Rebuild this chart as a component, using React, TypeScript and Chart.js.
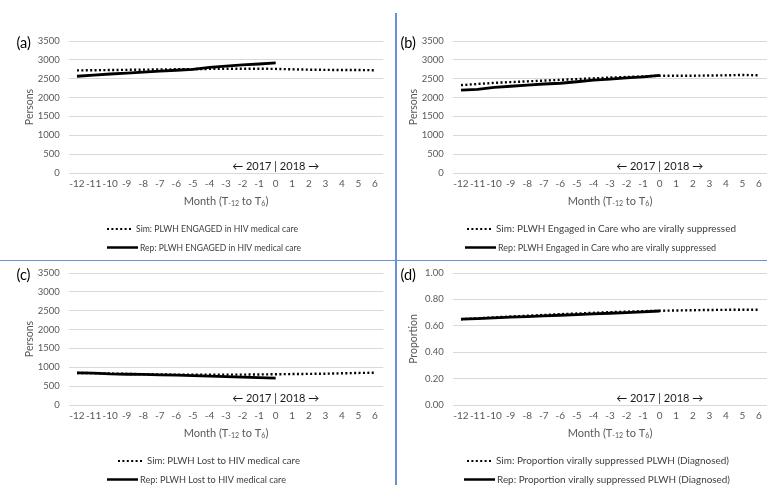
import React, { useEffect, useRef } from "react";
import { Chart, registerables } from "chart.js";

Chart.register(...registerables);

// ---------- data ----------
const months = ["-12", "-11", "-10", "-9", "-8", "-7", "-6", "-5", "-4", "-3", "-2", "-1", "0", "1", "2", "3", "4", "5", "6"];

const simEngaged = [2720, 2725, 2730, 2735, 2740, 2745, 2750, 2755, 2760, 2765, 2765, 2765, 2760, 2750, 2740, 2735, 2730, 2730, 2725];
const repEngaged = [2565, 2595, 2625, 2650, 2675, 2700, 2725, 2750, 2800, 2835, 2865, 2890, 2920];

const simSuppressed = [2330, 2360, 2390, 2410, 2430, 2450, 2470, 2490, 2510, 2530, 2545, 2560, 2580, 2580, 2580, 2585, 2590, 2600, 2590];
const repSuppressed = [2200, 2220, 2270, 2300, 2330, 2360, 2380, 2420, 2460, 2490, 2520, 2550, 2590];

const simLost = [850, 845, 835, 825, 815, 810, 805, 805, 805, 805, 805, 810, 815, 820, 825, 830, 840, 850, 855];
const repLost = [850, 845, 825, 815, 810, 800, 790, 780, 765, 755, 740, 725, 710];

const simProportion = [0.65, 0.657, 0.664, 0.67, 0.676, 0.682, 0.688, 0.693, 0.698, 0.703, 0.707, 0.711, 0.714, 0.716, 0.718, 0.72, 0.721, 0.722, 0.722];
const repProportion = [0.65, 0.655, 0.66, 0.665, 0.67, 0.675, 0.68, 0.685, 0.69, 0.695, 0.7, 0.705, 0.712];

const personsMax = 3500;
const personsStep = 500;
const proportionMax = 1;
const proportionStep = 0.2;

const panelLabels = ["(a)", "(b)", "(c)", "(d)"];
const yTitles = ["Persons", "Persons", "Persons", "Proportion"];
const simLegends = [
  "Sim: PLWH ENGAGED in HIV medical care",
  "Sim: PLWH Engaged in Care who are virally suppressed",
  "Sim: PLWH Lost to HIV medical care",
  "Sim: Proportion virally suppressed PLWH (Diagnosed)",
];
const repLegends = [
  "Rep: PLWH ENGAGED in HIV medical care",
  "Rep: PLWH Engaged in Care who are virally suppressed",
  "Rep: PLWH Lost to HIV medical care",
  "Rep: Proportion virally suppressed PLWH (Diagnosed)",
];
const yearAnnotation = "\u2190 2017 | 2018 \u2192";
const xTitleParts = ["Month (T", "-12", " to T", "6", ")"];
const annotationMonth = "0";

// ---------- layout ----------
const CW = 390;
const CH = 260;
const AREA_LEFT = 68.7;
const AREA_RIGHT = 383.3;
const AREA_TOP = 41;
const AREA_BOTTOM = 173;
const XAXIS_H = 20;
const FONT = "Lato, 'Open Sans', sans-serif";
const GRAY = "#595959";

type PanelDef = {
  idx: number;
  left: number;
  top: number;
  sim: number[];
  rep: number[];
  max: number;
  step: number;
  decimals: number;
  simX: number;
  repX: number;
  simW: number;
  repW: number;
};

const panels: PanelDef[] = [
  { idx: 0, left: 0, top: 0, sim: simEngaged, rep: repEngaged, max: personsMax, step: personsStep, decimals: 0, simX: 107, repX: 107, simW: 162, repW: 161 },
  { idx: 1, left: 384, top: 0, sim: simSuppressed, rep: repSuppressed, max: personsMax, step: personsStep, decimals: 0, simX: 83, repX: 81, simW: 240, repW: 218 },
  { idx: 2, left: 0, top: 232, sim: simLost, rep: repLost, max: personsMax, step: personsStep, decimals: 0, simX: 118, repX: 107, simW: 153, repW: 146 },
  { idx: 3, left: 384, top: 232, sim: simProportion, rep: repProportion, max: proportionMax, step: proportionStep, decimals: 2, simX: 83, repX: 80, simW: 233, repW: 233 },
];

function fitText(ctx: CanvasRenderingContext2D, text: string, x: number, y: number, target: number) {
  const w = ctx.measureText(text).width;
  const sx = w > 0 ? target / w : 1;
  ctx.save();
  ctx.translate(x, y);
  ctx.scale(sx, 1);
  ctx.fillText(text, 0, 0);
  ctx.restore();
}

function Panel({ p }: { p: PanelDef }) {
  const ref = useRef<HTMLCanvasElement | null>(null);
  useEffect(() => {
    const canvas = ref.current;
    if (!canvas) return;
    const overlay = {
      id: "overlay" + p.idx,
      afterDraw(chart: any) {
        const ctx = chart.ctx as CanvasRenderingContext2D;
        const xs = chart.scales.x;
        const ys = chart.scales.y;
        const area = chart.chartArea;
        ctx.save();
        // panel label
        ctx.fillStyle = "#000";
        ctx.font = `14.5px ${FONT}`;
        ctx.textAlign = "left";
        ctx.textBaseline = "middle";
        ctx.fillText(panelLabels[p.idx], 16.5, 43);
        // y title
        ctx.save();
        ctx.translate(30, (area.top + area.bottom) / 2);
        ctx.rotate(-Math.PI / 2);
        ctx.fillStyle = GRAY;
        ctx.font = `10.5px ${FONT}`;
        ctx.textAlign = "center";
        ctx.textBaseline = "middle";
        ctx.fillText(yTitles[p.idx], 0, 0);
        ctx.restore();
        // x title with subscripts
        const big = `11px ${FONT}`;
        const small = `7px ${FONT}`;
        const fonts = [big, small, big, small, big];
        let total = 0;
        const widths = xTitleParts.map((t, i) => {
          ctx.font = fonts[i];
          const w = ctx.measureText(t).width;
          total += w;
          return w;
        });
        let x = (area.left + area.right) / 2 - total / 2;
        const ty = 201;
        ctx.fillStyle = GRAY;
        ctx.textAlign = "left";
        ctx.textBaseline = "middle";
        xTitleParts.forEach((t, i) => {
          ctx.font = fonts[i];
          ctx.fillText(t, x, i % 2 === 1 ? ty + 3 : ty);
          x += widths[i];
        });
        // year annotation
        ctx.fillStyle = "#1a1a1a";
        ctx.font = `11px ${FONT}`;
        ctx.textAlign = "center";
        ctx.textBaseline = "middle";
        const ax = xs.getPixelForValue(months.indexOf(annotationMonth));
        ctx.fillText(yearAnnotation, ax, ys.getPixelForValue(0) - 6.5);
        // legend
        const r1 = 229;
        const r2 = 247.5;
        ctx.strokeStyle = "#000";
        ctx.lineWidth = 2.2;
        ctx.setLineDash([2, 2.4]);
        ctx.beginPath();
        ctx.moveTo(p.simX, r1);
        ctx.lineTo(p.simX + 26, r1);
        ctx.stroke();
        ctx.setLineDash([]);
        ctx.lineWidth = 2.5;
        ctx.beginPath();
        ctx.moveTo(p.repX, r2);
        ctx.lineTo(p.repX + 31, r2);
        ctx.stroke();
        ctx.fillStyle = "#404040";
        ctx.font = `9.8px ${FONT}`;
        ctx.textAlign = "left";
        fitText(ctx, simLegends[p.idx], p.simX + 29, r1, p.simW);
        fitText(ctx, repLegends[p.idx], p.repX + 33, r2, p.repW);
        ctx.restore();
      },
    };
    const chart = new Chart(canvas, {
      type: "line",
      data: {
        labels: months,
        datasets: [
          {
            label: simLegends[p.idx],
            data: p.sim,
            borderColor: "#000",
            borderWidth: 2.4,
            borderDash: [2, 2.4],
            pointRadius: 0,
            tension: 0,
            fill: false,
            order: 0,
          },
          {
            label: repLegends[p.idx],
            data: p.rep,
            borderColor: "#000",
            borderWidth: 2.8,
            pointRadius: 0,
            tension: 0,
            fill: false,
            order: 1,
          },
        ],
      },
      options: {
        animation: false,
        responsive: false,
        maintainAspectRatio: false,
        devicePixelRatio: 1,
        layout: {
          padding: { left: 0, top: AREA_TOP, right: CW - AREA_RIGHT, bottom: CH - AREA_BOTTOM - XAXIS_H },
        },
        plugins: { legend: { display: false }, tooltip: { enabled: false } },
        scales: {
          x: {
            type: "category",
            offset: true,
            grid: { display: false, drawTicks: false },
            border: { display: false },
            ticks: { color: GRAY, font: { family: FONT, size: 10 }, padding: 5, maxRotation: 0, minRotation: 0, autoSkip: false },
            afterFit: (s: any) => {
              s.height = XAXIS_H;
            },
          },
          y: {
            min: 0,
            max: p.max,
            ticks: {
              stepSize: p.step,
              color: GRAY,
              font: { family: FONT, size: 9.5 },
              padding: 9,
              callback: (v: any) => (p.decimals ? Number(v).toFixed(p.decimals) : String(v)),
            },
            grid: { color: "#d9d9d9", drawTicks: false, lineWidth: 1 },
            border: { display: false },
            afterFit: (s: any) => {
              s.width = AREA_LEFT;
            },
          },
        },
      },
      plugins: [overlay],
    } as any);
    return () => chart.destroy();
  }, []);
  return (
    <canvas
      ref={ref}
      width={CW}
      height={CH}
      style={{ position: "absolute", left: p.left, top: p.top, width: CW, height: CH }}
    />
  );
}

export default function App() {
  return (
    <div
      style={{
        position: "fixed",
        left: 0,
        top: 0,
        width: 767,
        height: 485,
        overflow: "hidden",
        background: "#fff",
      }}
    >
      {panels.map((p) => (
        <Panel key={p.idx} p={p} />
      ))}
      <div style={{ position: "absolute", left: 395, top: 13, width: 1.5, height: 472, background: "#6a90d6" }} />
      <div style={{ position: "absolute", left: 0, top: 259.5, width: 767, height: 1.5, background: "#6a90d6" }} />
    </div>
  );
}
